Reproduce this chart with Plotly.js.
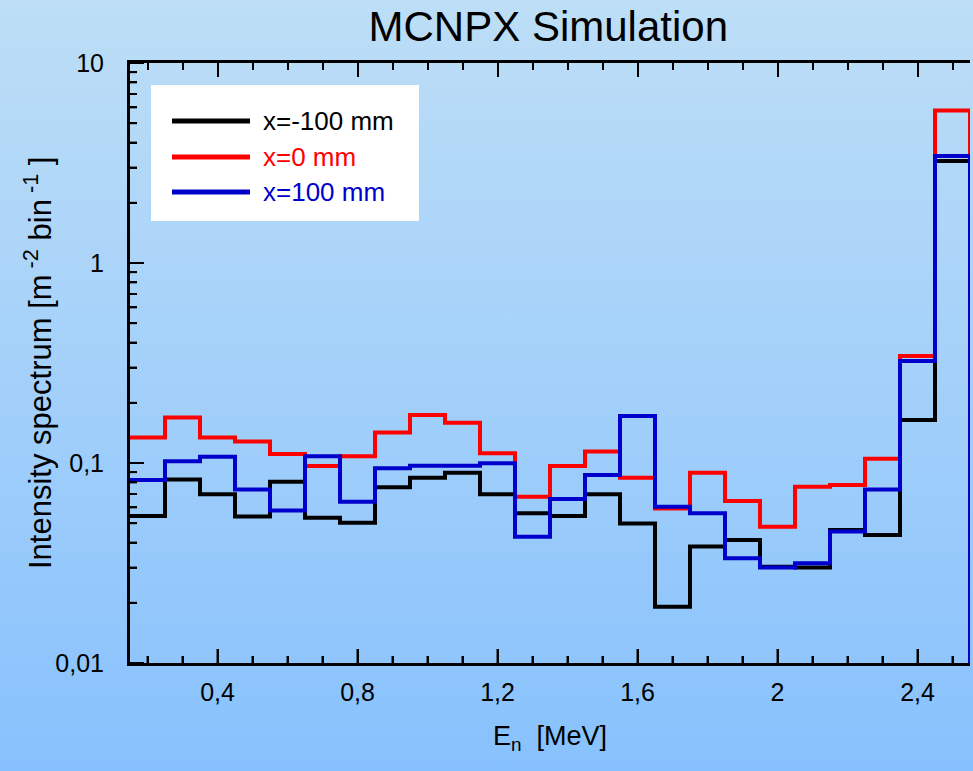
<!DOCTYPE html>
<html>
<head>
<meta charset="utf-8">
<script src="https://cdn.plot.ly/plotly-3.0.1.min.js"></script>
<style>
  html, body { margin: 0; padding: 0; }
  body { width: 973px; height: 771px; background: linear-gradient(to bottom, #bddef6 0%, #a3d0fa 50%, #87c1fd 100%); overflow: hidden; }
  #chart { width: 973px; height: 771px; }
</style>
</head>
<body>
<div id="chart"></div>
<script>
// Lower edges of the 0.1 MeV energy bins [MeV]
const binLow = [0.15,0.25,0.35,0.45,0.55,0.65,0.75,0.85,0.95,1.05,1.15,1.25,1.35,1.45,1.55,1.65,1.75,1.85,1.95,2.05,2.15,2.25,2.35,2.45];
const binWidth = 0.1;
// Intensity spectrum [m^-2 bin^-1]
const xm100 = [0.0543,0.0828,0.0697,0.0540,0.0807,0.0533,0.0503,0.0756,0.0845,0.0895,0.0697,0.0560,0.0543,0.0697,0.0499,0.0191,0.0382,0.0412,0.0303,0.0300,0.0462,0.0437,0.164,3.24];
const x0   = [0.134,0.169,0.134,0.128,0.111,0.0966,0.108,0.142,0.174,0.159,0.112,0.0679,0.0966,0.114,0.0845,0.0593,0.0895,0.0646,0.0480,0.0761,0.0776,0.105,0.343,5.78];
const xp100 = [0.0822,0.102,0.1076,0.0738,0.0578,0.108,0.064,0.094,0.097,0.097,0.0996,0.0428,0.066,0.0871,0.172,0.0605,0.056,0.0334,0.0300,0.0315,0.0454,0.0738,0.324,3.43];
const seriesNames = ["x=-100 mm", "x=0 mm", "x=100 mm"];
const seriesColors = ["#000000", "#ff0000", "#0000cc"];
const xTickVals = [0.4,0.8,1.2,1.6,2,2.4];
const xTickText = ["0,4","0,8","1,2","1,6","2","2,4"];
const yTickVals = [0.01,0.1,1,10];
const yTickText = ["0,01","0,1","1","10"];

const xRange = [0.15, 2.55];
const yRangeLog = [-2, 1];
const yFloor = 0.01;

// minor tick positions
const yMinor = [];
[0.01, 0.1, 1].forEach(d => { for (let k = 2; k <= 9; k++) yMinor.push(d * k); });
const xMinor = [];
for (let k = 2; k <= 25; k++) if (k % 4 !== 0) xMinor.push(k / 10);

function stepTrace(vals, name, color) {
  const lastEdge = binLow[binLow.length-1] + binWidth;
  const x = binLow.concat([lastEdge, lastEdge]);
  const y = vals.concat([vals[vals.length-1], yFloor]);
  return { x: x, y: y, type: 'scatter', mode: 'lines', name: name,
           line: { shape: 'hv', color: color, width: 4 }, showlegend: false, hoverinfo: 'skip' };
}
const series = [xm100, x0, xp100];
const data = series.map((s, i) => stepTrace(s, seriesNames[i], seriesColors[i]));

const F = "Liberation Sans, Arial, sans-serif";
const plotW = 840, plotH = 600;
const shapes = [];
// inner ticks on the bottom and left axes
function addBottomTick(v, len) {
  shapes.push({ type: 'line', xref: 'x', yref: 'paper', x0: v, x1: v, y0: 0, y1: len / plotH,
                line: { color: '#000', width: 2 }, layer: 'above' });
}
function addLeftTick(v, len) {
  const yp = (Math.log10(v) - yRangeLog[0]) / (yRangeLog[1] - yRangeLog[0]);
  shapes.push({ type: 'line', xref: 'paper', yref: 'paper', x0: 0, x1: len / plotW, y0: yp, y1: yp,
                line: { color: '#000', width: 2 }, layer: 'above' });
}
xTickVals.forEach(v => addBottomTick(v, 14));
xMinor.forEach(v => addBottomTick(v, 7));
yTickVals.forEach(v => addLeftTick(v, 14));
yMinor.forEach(v => addLeftTick(v, 7));

// manual legend box
shapes.push({ type: 'rect', xref: 'paper', yref: 'paper', x0: 0.025, x1: 0.344, y0: (663-221)/600, y1: (663-85)/600,
              fillcolor: '#ffffff', line: { width: 0 }, layer: 'above' });
const annotations = [];
const rowY = [121, 157, 192];
seriesNames.forEach((n, i) => {
  const yp = (663 - rowY[i]) / 600;
  shapes.push({ type: 'line', xref: 'paper', yref: 'paper', x0: (172-130)/840, x1: (250-130)/840, y0: yp, y1: yp,
                line: { color: seriesColors[i], width: 5 }, layer: 'above' });
  annotations.push({ xref: 'paper', yref: 'paper', x: (261-130)/840, y: yp, xanchor: 'left', yanchor: 'middle',
                     text: n, showarrow: false, font: { family: F, size: 26, color: seriesColors[i] } });
});
// y axis title
annotations.push({ xref: 'paper', yref: 'paper', x: (38-130)/840, y: 0.5, xanchor: 'center', yanchor: 'middle', textangle: -90,
                   text: 'Intensity spectrum [m<sup> -2</sup> bin<sup> -1</sup> ]', showarrow: false,
                   font: { family: F, size: 31, color: '#000' } });

const minorAll = { ticks: 'inside', ticklen: 7, tickwidth: 2, tickcolor: '#000', tickmode: 'array' };

const layout = {
  width: 973, height: 771,
  margin: { l: 130, r: 3, t: 63, b: 108 },
  paper_bgcolor: 'rgba(0,0,0,0)', plot_bgcolor: 'rgba(0,0,0,0)',
  title: { text: 'MCNPX Simulation', x: 0.5635, xanchor: 'center', y: 0.966, yanchor: 'middle', yref: 'container',
           font: { family: F, size: 42, color: '#000' } },
  xaxis: {
    range: xRange, showgrid: false, zeroline: false,
    showline: true, linecolor: '#000', linewidth: 3, mirror: 'ticks',
    tickmode: 'array', tickvals: xTickVals, ticktext: xTickText,
    ticks: 'inside', ticklen: 14, tickwidth: 2, tickcolor: '#000',
    minor: Object.assign({}, minorAll, { tickvals: xMinor }),
    tickfont: { family: F, size: 25, color: '#000' }, ticklabelstandoff: 5,
    title: { text: 'E<sub>n</sub>  [MeV]', font: { family: F, size: 27, color: '#000' }, standoff: 22 }
  },
  yaxis: {
    type: 'log', range: yRangeLog, showgrid: false, zeroline: false,
    showline: true, linecolor: '#000', linewidth: 3,
    tickmode: 'array', tickvals: yTickVals, ticktext: yTickText,
    ticks: 'inside', ticklen: 14, tickwidth: 2, tickcolor: '#000',
    minor: Object.assign({}, minorAll, { tickvals: yMinor }),
    tickfont: { family: F, size: 25, color: '#000' }, ticklabelstandoff: 18
  },
  shapes: shapes,
  annotations: annotations,
  showlegend: false
};
Plotly.newPlot('chart', data, layout, { displayModeBar: false, staticPlot: true });
</script>
</body>
</html>
